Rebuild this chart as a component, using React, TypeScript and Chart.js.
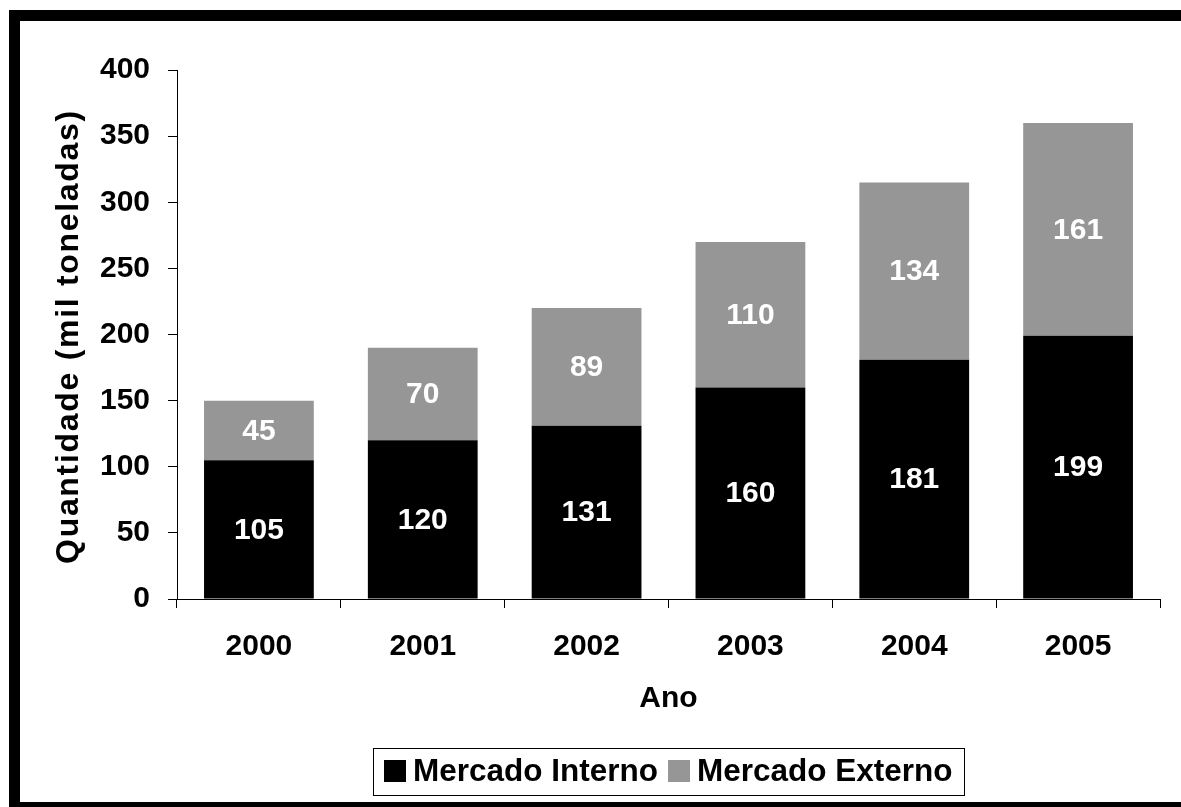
import React, { useEffect, useRef } from "react";
import { Chart, registerables } from "chart.js";

Chart.register(...registerables);

const categories = ["2000", "2001", "2002", "2003", "2004", "2005"];
const mercadoInterno = [105, 120, 131, 160, 181, 199];
const mercadoExterno = [45, 70, 89, 110, 134, 161];
const seriesNames = ["Mercado Interno", "Mercado Externo"];
const seriesColors = ["#000000", "#969696"];
const yMin = 0;
const yMax = 400;
const yStep = 50;
const xTitle = "Ano";
const yTitle = "Quantidade (mil toneladas)";

const FONT_FAMILY = '"Liberation Sans", Arial, Helvetica, sans-serif';
const W = 1181;
const H = 807;

const framePlugin = {
  id: "frame",
  beforeDraw(chart: any) {
    const ctx = chart.ctx;
    ctx.save();
    ctx.fillStyle = "#ffffff";
    ctx.fillRect(0, 0, chart.width, chart.height);
    ctx.fillStyle = "#000000";
    ctx.fillRect(9, 10, 11, chart.height - 10);
    ctx.fillRect(9, 10, chart.width - 9, 11);
    ctx.fillRect(9, 802, chart.width - 9, chart.height - 802);
    ctx.restore();
  },
};

const yTitlePlugin = {
  id: "yTitle",
  afterDraw(chart: any) {
    const ctx = chart.ctx;
    const area = chart.chartArea;
    ctx.save();
    ctx.font = `bold 32px ${FONT_FAMILY}`;
    (ctx as any).letterSpacing = "1.7px";
    ctx.fillStyle = "#000000";
    ctx.textAlign = "center";
    ctx.textBaseline = "middle";
    ctx.translate(69, (area.top + area.bottom) / 2 + 2);
    ctx.rotate(-Math.PI / 2);
    ctx.fillText(yTitle, 0, 0);
    ctx.restore();
  },
};

const dataLabelPlugin = {
  id: "dataLabels",
  afterDatasetsDraw(chart: any) {
    const ctx = chart.ctx;
    ctx.save();
    ctx.font = `bold 30px ${FONT_FAMILY}`;
    ctx.fillStyle = "#ffffff";
    ctx.textAlign = "center";
    ctx.textBaseline = "middle";
    chart.data.datasets.forEach((ds: any, i: number) => {
      const meta = chart.getDatasetMeta(i);
      meta.data.forEach((bar: any, j: number) => {
        const p = bar.getProps(["x", "y", "base"], true);
        ctx.fillText(String(ds.data[j]), p.x, (p.y + p.base) / 2 + 1);
      });
    });
    ctx.restore();
  },
};

const legendPlugin = {
  id: "boxLegend",
  afterDraw(chart: any) {
    const ctx = chart.ctx;
    const area = chart.chartArea;
    ctx.save();
    ctx.font = `bold 31.5px ${FONT_FAMILY}`;
    const sq = 22;
    const gapSq = 7;
    const gapItem = 10;
    const padX = 11;
    const boxH = 47;
    const cy = 771;
    const items = chart.data.datasets.map((ds: any) => ({
      label: ds.label,
      color: ds.backgroundColor,
      w: ctx.measureText(ds.label).width,
    }));
    let total = padX * 2;
    items.forEach((it: any, i: number) => {
      total += sq + gapSq + it.w;
      if (i < items.length - 1) total += gapItem;
    });
    const cx = (area.left + area.right) / 2;
    const left = Math.round(cx - total / 2);
    const top = Math.round(cy - boxH / 2);
    ctx.strokeStyle = "#000000";
    ctx.lineWidth = 1;
    ctx.strokeRect(left + 0.5, top + 0.5, Math.round(total), boxH);
    let x = left + padX;
    ctx.textAlign = "left";
    ctx.textBaseline = "middle";
    items.forEach((it: any) => {
      ctx.fillStyle = it.color;
      ctx.fillRect(x, cy - sq / 2, sq, sq);
      x += sq + gapSq;
      ctx.fillStyle = "#000000";
      ctx.fillText(it.label, x, cy + 1);
      x += it.w + gapItem;
    });
    ctx.restore();
  },
};

export default function App() {
  const canvasRef = useRef<HTMLCanvasElement | null>(null);

  useEffect(() => {
    document.body.style.margin = "0";
    document.body.style.overflow = "hidden";
    const canvas = canvasRef.current;
    if (!canvas) return;
    const font = { family: FONT_FAMILY, size: 30, weight: "bold" as const };
    const chart = new Chart(canvas, {
      type: "bar",
      data: {
        labels: categories,
        datasets: [
          {
            label: seriesNames[0],
            data: mercadoInterno,
            backgroundColor: seriesColors[0],
            borderWidth: 0,
            categoryPercentage: 1,
            barPercentage: 0.67,
          },
          {
            label: seriesNames[1],
            data: mercadoExterno,
            backgroundColor: seriesColors[1],
            borderWidth: 0,
            categoryPercentage: 1,
            barPercentage: 0.67,
          },
        ],
      },
      options: {
        responsive: false,
        animation: false,
        devicePixelRatio: 1,
        layout: { padding: { top: 70, right: 21, left: 0, bottom: 0 } },
        plugins: {
          legend: { display: false },
          tooltip: { enabled: false },
          title: { display: false },
        },
        scales: {
          x: {
            stacked: true,
            offset: true,
            grid: {
              display: true,
              offset: true,
              drawOnChartArea: false,
              drawTicks: true,
              tickLength: 9,
              color: "#000000",
            },
            border: { display: true, color: "#000000", width: 1 },
            ticks: { font, color: "#000000", padding: 21, maxRotation: 0 },
            title: {
              display: true,
              text: xTitle,
              font,
              color: "#000000",
              padding: { top: 0, bottom: 90 },
            },
            afterFit: (s: any) => {
              s.height = 208;
            },
          },
          y: {
            stacked: true,
            min: yMin,
            max: yMax,
            grid: {
              display: true,
              drawOnChartArea: false,
              drawTicks: true,
              tickLength: 9,
              color: "#000000",
            },
            border: { display: true, color: "#000000", width: 1 },
            ticks: { stepSize: yStep, font, color: "#000000", padding: 18 },
            title: { display: false, text: yTitle },
            afterFit: (s: any) => {
              s.width = 177;
            },
          },
        },
      },
      plugins: [framePlugin, dataLabelPlugin, legendPlugin, yTitlePlugin],
    });
    return () => {
      chart.destroy();
    };
  }, []);

  return (
    <div style={{ position: "fixed", left: 0, top: 0, width: W, height: H }}>
      <canvas ref={canvasRef} width={W} height={H} style={{ display: "block", width: W, height: H }} />
    </div>
  );
}
